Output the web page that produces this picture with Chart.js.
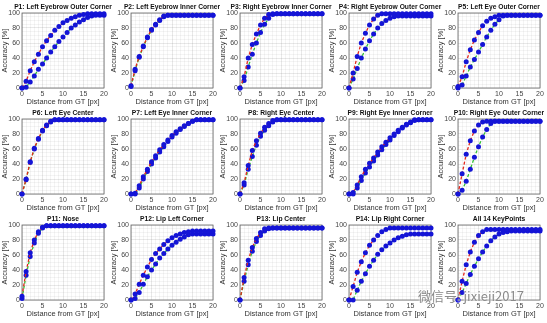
<!DOCTYPE html>
<html>
<head>
<meta charset="utf-8">
<script src="https://cdn.jsdelivr.net/npm/chart.js@4.4.1/dist/chart.umd.min.js"></script>
<style>
  body { margin: 0; background: #fff; }
  #wrap { position: relative; width: 547px; height: 323px; overflow: hidden; }
  .cell { position: absolute; width: 139px; height: 106px; }
  #wm {
    position: absolute; left: 418px; top: 286px;
    font: 13px "Noto Sans CJK SC", sans-serif; color: #8a8a8a;
    text-shadow: 0 0 2px #fff, 0 0 2px #fff;
  }
</style>
</head>
<body>
<div id="wrap"></div>
<div id="wm">微信号: jixieji2017</div>
<script>
// distance thresholds (px)
const distances = [0,1,2,3,4,5,6,7,8,9,10,11,12,13,14,15,16,17,18,19,20];

const titles = [
  "P1: Left Eyebrow Outer Corner", "P2: Left Eyebrow Inner Corner", "P3: Right Eyebrow Inner Corner",
  "P4: Right Eyebrow Outer Corner", "P5: Left Eye Outer Corner",
  "P6: Left Eye Center", "P7: Left Eye Inner Corner", "P8: Right Eye Center",
  "P9: Right Eye Inner Corner", "P10: Right Eye Outer Corner",
  "P11: Nose", "P12: Lip Left Corner", "P13: Lip Center", "P14: Lip Right Corner", "All 14 KeyPoints"
];

// upper curve (red dashed) per panel
const upperCurves = [
  [0,9,23,35,45,55,63,70,77,82,87,90,93,95,97,98,99,99,99,99,99],
  [3,25,42,56,68,78,85,91,96,97,97,97,97,97,97,97,97,97,97,97,97],
  [0,15,40,58,72,84,93,98,99,99,99,99,99,99,99,99,99,99,99,99,99],
  [0,20,42,60,73,84,92,97,99,99,99,99,99,99,99,99,99,99,99,99,99],
  [2,15,35,51,64,74,83,89,93,95,97,97,97,97,97,97,97,97,97,97,97],
  [0,20,43,61,74,85,92,97,99,99,99,99,99,99,99,99,99,99,99,99,99],
  [0,1,11,23,33,43,51,59,66,72,78,83,87,91,94,97,99,99,99,99,99],
  [0,15,38,58,71,81,89,94,98,99,99,99,99,99,99,99,99,99,99,99,99],
  [0,2,12,23,33,41,48,56,63,69,75,80,85,89,93,96,99,99,99,99,99],
  [0,27,53,71,84,92,96,97,97,97,97,97,97,97,97,97,97,97,97,97,97],
  [5,38,63,80,91,97,99,99,99,99,99,99,99,99,99,99,99,99,99,99,99],
  [0,8,21,33,44,54,62,68,74,79,83,86,88,90,91,92,92,92,92,92,92],
  [0,30,53,70,82,90,95,96,96,96,96,96,96,96,96,96,96,96,96,96,96],
  [0,18,37,51,63,73,80,86,91,94,96,96,96,96,96,96,96,96,96,96,96],
  [0,25,47,64,77,86,91,94,94,94,94,94,94,94,94,94,94,94,94,94,94]
];

// lower curve (green dashed) per panel
const lowerCurves = [
  [0,1,8,16,25,32,40,48,55,62,68,74,80,84,88,91,94,96,97,97,97],
  [2,23,41,55,67,77,84,90,95,97,97,97,97,97,97,97,97,97,97,97,97],
  [0,10,28,45,60,74,85,93,98,99,99,99,99,99,99,99,99,99,99,99,99],
  [0,12,26,40,52,63,72,80,86,90,93,95,96,96,96,96,96,96,96,96,96],
  [0,4,16,28,38,48,58,68,77,85,91,96,97,97,97,97,97,97,97,97,97],
  [0,19,42,60,73,84,91,96,99,99,99,99,99,99,99,99,99,99,99,99,99],
  [0,0,8,20,30,40,48,56,63,70,76,81,86,90,94,97,99,99,99,99,99],
  [0,12,33,50,65,77,85,91,96,99,99,99,99,99,99,99,99,99,99,99,99],
  [0,0,8,18,28,36,44,52,59,66,72,78,83,88,92,95,98,99,99,99,99],
  [0,5,17,33,49,63,76,86,94,97,97,97,97,97,97,97,97,97,97,97,97],
  [2,33,58,76,89,96,99,99,99,99,99,99,99,99,99,99,99,99,99,99,99],
  [0,2,10,21,31,40,48,56,62,68,73,77,81,84,87,88,88,88,88,88,88],
  [0,25,47,65,78,86,92,95,96,96,96,96,96,96,96,96,96,96,96,96,96],
  [0,0,13,25,35,45,53,61,67,72,76,80,83,85,87,88,88,88,88,88,88],
  [0,10,22,34,45,55,64,72,79,84,88,90,91,92,92,92,92,92,92,92,92]
];

const FONT = "'Liberation Sans', Arial, sans-serif";

// box around the plot area + title centred over it (MATLAB style)
const boxPlugin = {
  id: "box",
  beforeDatasetsDraw(chart) {
    const a = chart.chartArea, ctx = chart.ctx;
    ctx.save();
    ctx.strokeStyle = "#666";
    ctx.lineWidth = 0.8;
    ctx.strokeRect(a.left, a.top, a.right - a.left, a.bottom - a.top);
    ctx.restore();
  },
  afterDraw(chart, args, opts) {
    const a = chart.chartArea, ctx = chart.ctx;
    ctx.save();
    ctx.fillStyle = "#111";
    ctx.font = "bold 6.7px " + FONT;
    ctx.textAlign = "center";
    ctx.textBaseline = "middle";
    ctx.fillText(opts.text, (a.left + a.right) / 2, 7);
    ctx.restore();
  }
};

function curve(vals) {
  return vals.map((v, i) => ({ x: distances[i], y: v }));
}

function gridColor(major) {
  return (ctx) => (ctx.tick && ctx.tick.value % major === 0) ? "rgba(0,0,0,0.09)" : "rgba(0,0,0,0.045)";
}

const wrap = document.getElementById("wrap");

titles.forEach((title, i) => {
  const col = i % 5, row = Math.floor(i / 5);
  const div = document.createElement("div");
  div.className = "cell";
  // canvases overlap a little so long titles can spill over like in MATLAB
  div.style.left = (col * 109 - 15) + "px";
  div.style.top = (row * 106) + "px";
  const canvas = document.createElement("canvas");
  div.appendChild(canvas);
  wrap.appendChild(div);

  new Chart(canvas, {
    type: "line",
    data: {
      datasets: [
        {
          data: curve(upperCurves[i]),
          borderColor: "#e3261b",
          borderDash: [3, 2],
          borderWidth: 1.3,
          pointRadius: 2.5,
          pointBackgroundColor: "#1414d6",
          pointBorderWidth: 0,
          clip: false,
        },
        {
          data: curve(lowerCurves[i]),
          borderColor: "#33c033",
          borderDash: [3, 2],
          borderWidth: 1.3,
          pointRadius: 2.5,
          pointBackgroundColor: "#1414d6",
          pointBorderWidth: 0,
          clip: false,
        },
      ],
    },
    options: {
      responsive: true,
      maintainAspectRatio: false,
      animation: false,
      layout: { padding: { right: 20, left: 15, top: 13, bottom: 0 } },
      plugins: {
        legend: { display: false },
        tooltip: { enabled: false },
        title: { display: false },
        box: { text: title },
      },
      scales: {
        x: {
          type: "linear",
          min: 0,
          max: 20,
          afterFit: (s) => { s.height = 18; },
          border: { display: false },
          grid: { color: gridColor(5), drawTicks: false },
          ticks: {
            stepSize: 1,
            autoSkip: false,
            maxRotation: 0,
            padding: 2,
            color: "#444",
            font: { family: FONT, size: 7 },
            callback: (v) => (v % 5 === 0 ? v : ""),
          },
          title: {
            display: true,
            text: "Distance from GT [px]",
            color: "#333",
            font: { family: FONT, size: 7.5 },
            padding: 0,
          },
        },
        y: {
          min: 0,
          max: 100,
          afterFit: (s) => { s.width = 22; },
          border: { display: false },
          grid: { color: gridColor(20), drawTicks: false },
          ticks: {
            stepSize: 5,
            autoSkip: false,
            padding: 2,
            color: "#444",
            font: { family: FONT, size: 7 },
            callback: (v) => (v % 20 === 0 ? v : ""),
          },
          title: {
            display: true,
            text: "Accuracy [%]",
            color: "#333",
            font: { family: FONT, size: 7.5 },
            padding: 0,
          },
        },
      },
    },
    plugins: [boxPlugin],
  });
});
</script>
</body>
</html>
